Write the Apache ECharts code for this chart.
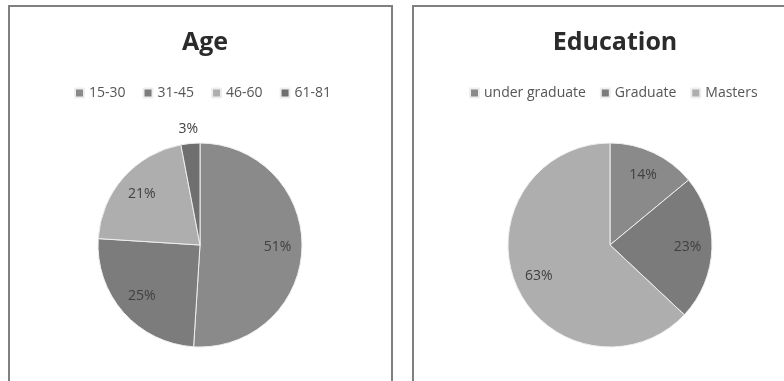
<!DOCTYPE html>
<html lang="en">
<head>
    <meta charset="UTF-8">
    <title>Age / Education</title>
    <script src="https://cdn.jsdelivr.net/npm/echarts@6/dist/echarts.min.js"></script>
    <style>
        html, body { margin: 0; padding: 0; background: #fff; }
        #chart { width: 784px; height: 381px; }
    </style>
</head>
<body>
    <div id="chart"></div>
    <script>
        // age groups
        const ageNames = ['15-30', '31-45', '46-60', '61-81'];
        const ageValues = [51, 25, 21, 3];
        const ageColors = ['#8a8a8a', '#7c7c7c', '#aeaeae', '#6f6f6f'];

        // education level
        const eduNames = ['under graduate', 'Graduate', 'Masters'];
        const eduValues = [14, 23, 63];
        const eduColors = ['#8a8a8a', '#7b7b7b', '#aeaeae'];

        const font = '"Open Sans", Lato, sans-serif';

        function pieData(names, values, colors) {
            return names.map((n, i) => ({ name: n, value: values[i], itemStyle: { color: colors[i] } }));
        }

        // transparent copy of the pie, only used to put the % labels further out
        function labelData(names, values) {
            return names.map((n, i) => {
                const item = { name: n, value: values[i] };
                if (values[i] < 5) {
                    // small slice: label sits above the pie
                    item.label = { position: 'outside', distanceToLabelLine: -9 };
                    item.labelLine = { show: false, length: 15, length2: 0 };
                }
                return item;
            });
        }

        function mainPie(center, names, values, colors) {
            return {
                type: 'pie',
                center: center,
                radius: 102,
                startAngle: 90,
                clockwise: true,
                silent: true,
                label: { show: false },
                labelLine: { show: false },
                itemStyle: { borderColor: '#eeeeee', borderWidth: 1 },
                data: pieData(names, values, colors)
            };
        }

        function labelPie(center, names, values) {
            return {
                type: 'pie',
                center: center,
                radius: [47, 102],
                startAngle: 90,
                clockwise: true,
                silent: true,
                itemStyle: { color: 'rgba(0,0,0,0)' },
                label: {
                    show: true,
                    position: 'inside',
                    formatter: '{c}%',
                    color: '#404040',
                    fontSize: 14,
                    fontFamily: font
                },
                labelLine: { show: false },
                data: labelData(names, values)
            };
        }

        const chart = echarts.init(document.getElementById('chart'));

        const titleStyle = { fontSize: 25, fontWeight: 'bold', color: '#2b2b2b', fontFamily: font };
        const legendText = { fontSize: 14, color: '#555', fontFamily: font };

        const option = {
            animation: false,
            title: [
                { text: 'Age', left: 200, top: 25, textAlign: 'center', textStyle: titleStyle },
                { text: 'Education', left: 610, top: 25, textAlign: 'center', textStyle: titleStyle }
            ],
            legend: [
                {
                    data: ageNames, left: 69, top: 81, width: 360,
                    icon: 'rect', itemWidth: 9, itemHeight: 9, itemGap: 17,
                    selectedMode: false, textStyle: legendText
                },
                {
                    data: eduNames, left: 464, top: 81, width: 360,
                    icon: 'rect', itemWidth: 9, itemHeight: 9, itemGap: 14,
                    selectedMode: false, textStyle: legendText
                }
            ],
            graphic: [
                { type: 'rect', shape: { x: 9, y: 6, width: 383, height: 400 },
                  style: { fill: 'none', stroke: '#808080', lineWidth: 2 } },
                { type: 'rect', shape: { x: 413, y: 6, width: 400, height: 400 },
                  style: { fill: 'none', stroke: '#808080', lineWidth: 2 } }
            ],
            series: [
                mainPie([200, 245], ageNames, ageValues, ageColors),
                labelPie([200, 245], ageNames, ageValues),
                mainPie([610, 245], eduNames, eduValues, eduColors),
                labelPie([610, 245], eduNames, eduValues)
            ]
        };

        chart.setOption(option);
    </script>
</body>
</html>
